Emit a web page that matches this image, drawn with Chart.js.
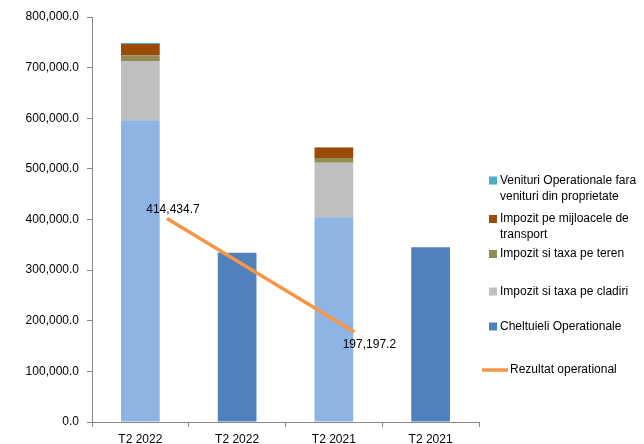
<!DOCTYPE html>
<html>
<head>
<meta charset="utf-8">
<script src="https://cdn.jsdelivr.net/npm/chart.js@4/dist/chart.umd.min.js"></script>
<style>
  html, body { margin: 0; padding: 0; background: #ffffff; }
  #wrap { width: 644px; height: 444px; }
</style>
</head>
<body>
<div id="wrap"><canvas id="c" width="644" height="444"></canvas></div>
<script>
// Categories on the main axis (revenue column, then expenses column, per period)
const categories = ['T2 2022', 'T2 2022', 'T2 2021', 'T2 2021'];

// Revenue stack components
const venituriBaza = [596000, null, 404300, null];
const impozitCladiri = [117000, null, 108000, null];
const impozitTeren = [11200, null, 9300, null];
const impozitTransport = [22500, null, 20400, null];
const venituriFaraProprietate = [2000, null, 800, null];

// Expenses
const cheltuieliOperationale = [null, 334300, null, 345100];

// Operating result per period
const perioadeRezultat = ['T2 2022', 'T2 2021'];
const rezultatOperational = [414434.7, 197197.2];

// Value axis ticks
const yTicks = [0, 100000, 200000, 300000, 400000, 500000, 600000, 700000, 800000];

const FONT = 'Liberation Sans, Arial, sans-serif';
const fmt = v => Number(v).toLocaleString('en-US', { minimumFractionDigits: 1, maximumFractionDigits: 1 });

Chart.defaults.font.family = FONT;
Chart.defaults.font.size = 12;
Chart.defaults.color = '#000000';

// Line value labels
const valueLabels = {
  id: 'valueLabels',
  afterDatasetsDraw(chart) {
    const ctx = chart.ctx;
    chart.data.datasets.forEach((ds, di) => {
      if (ds.type !== 'line') return;
      const meta = chart.getDatasetMeta(di);
      const offsets = [[6, -9], [15, 13]];
      meta.data.forEach((pt, i) => {
        const o = offsets[i] || [0, -10];
        ctx.save();
        ctx.font = '12px ' + FONT;
        ctx.fillStyle = '#000000';
        ctx.textAlign = 'center';
        ctx.textBaseline = 'middle';
        ctx.fillText(fmt(ds.data[i].y), pt.x + o[0], pt.y + o[1]);
        ctx.restore();
      });
    });
  }
};

// Legend on the right, with wrapped labels
const sideLegend = {
  id: 'sideLegend',
  afterDraw(chart) {
    const ctx = chart.ctx;
    const order = ['venituriFara', 'transport', 'teren', 'cladiri', 'cheltuieli', 'rezultat'];
    const rows = [180.5, 219, 254, 291.5, 326.5, 370];
    const textX = 500, boxX = 489, box = 8, maxW = 142, lineH = 16;
    ctx.save();
    ctx.font = '12px ' + FONT;
    ctx.textBaseline = 'middle';
    ctx.textAlign = 'left';
    order.forEach((key, r) => {
      const ds = chart.data.datasets.find(d => d.key === key);
      if (!ds) return;
      const y = rows[r];
      let tx = textX;
      if (ds.type === 'line') {
        ctx.strokeStyle = ds.borderColor;
        ctx.lineWidth = ds.borderWidth;
        ctx.beginPath();
        ctx.moveTo(482, y);
        ctx.lineTo(508, y);
        ctx.stroke();
        tx = 510;
      } else {
        ctx.fillStyle = ds.backgroundColor;
        ctx.fillRect(boxX, y - box / 2, box, box);
      }
      // wrap text
      const words = ds.label.split(' ');
      const lines = [];
      let cur = '';
      words.forEach(w => {
        const t = cur ? cur + ' ' + w : w;
        if (ctx.measureText(t).width > maxW && cur) { lines.push(cur); cur = w; }
        else cur = t;
      });
      if (cur) lines.push(cur);
      ctx.fillStyle = '#000000';
      lines.forEach((ln, k) => ctx.fillText(ln, tx, y + k * lineH));
    });
    ctx.restore();
  }
};

const ctx = document.getElementById('c').getContext('2d');
new Chart(ctx, {
  type: 'bar',
  data: {
    labels: categories,
    datasets: [
      { key: 'baza', stack: 'v', label: 'Venituri', data: venituriBaza, backgroundColor: '#8EB4E3', order: 2 },
      { key: 'cladiri', stack: 'v', label: 'Impozit si taxa pe cladiri', data: impozitCladiri, backgroundColor: '#BFBFBF', order: 2 },
      { key: 'teren', stack: 'v', label: 'Impozit si taxa pe teren', data: impozitTeren, backgroundColor: '#948A54', order: 2 },
      { key: 'transport', stack: 'v', label: 'Impozit pe mijloacele de transport', data: impozitTransport, backgroundColor: '#9C4A08', order: 2 },
      { key: 'venituriFara', stack: 'v', label: 'Venituri Operationale fara venituri din proprietate', data: venituriFaraProprietate, backgroundColor: '#4BACC6', order: 2 },
      { key: 'cheltuieli', stack: 'v', label: 'Cheltuieli Operationale', data: cheltuieliOperationale, backgroundColor: '#4F81BD', order: 2 },
      {
        key: 'rezultat', type: 'line', label: 'Rezultat operational',
        data: rezultatOperational.map((v, i) => ({ x: i, y: v, period: perioadeRezultat[i] })),
        xAxisID: 'x2', yAxisID: 'y2',
        borderColor: '#F79646', borderWidth: 3.5, pointRadius: 0, fill: false, order: 1
      }
    ]
  },
  options: {
    responsive: false,
    animation: false,
    devicePixelRatio: 1,
    layout: { padding: { left: 0, right: 165, top: 17, bottom: 0 } },
    datasets: { bar: { barPercentage: 0.4, categoryPercentage: 1.0, grouped: false } },
    plugins: { legend: { display: false }, tooltip: { enabled: false } },
    scales: {
      x: {
        stacked: true,
        grid: { offset: true, drawOnChartArea: false, drawTicks: true, tickLength: 5, color: '#868686' },
        border: { color: '#868686' },
        ticks: { padding: 5, color: '#000000', font: { size: 12 } },
        afterFit(s) { s.height = 22; }
      },
      y: {
        stacked: true,
        min: 0, max: 800000,
        afterBuildTicks(s) { s.ticks = yTicks.map(v => ({ value: v })); },
        ticks: { padding: 8, color: '#000000', font: { size: 12 }, callback: v => fmt(v) },
        grid: { drawOnChartArea: false, drawTicks: true, tickLength: 5, color: '#868686' },
        border: { color: '#868686' },
        afterFit(s) { s.width = 92; }
      },
      x2: { type: 'linear', display: false, offset: false, min: -0.4, max: 1.665 },
      y2: { type: 'linear', display: false, offset: false, min: 25000, max: 800000 }
    }
  },
  plugins: [valueLabels, sideLegend]
});
</script>
</body>
</html>
